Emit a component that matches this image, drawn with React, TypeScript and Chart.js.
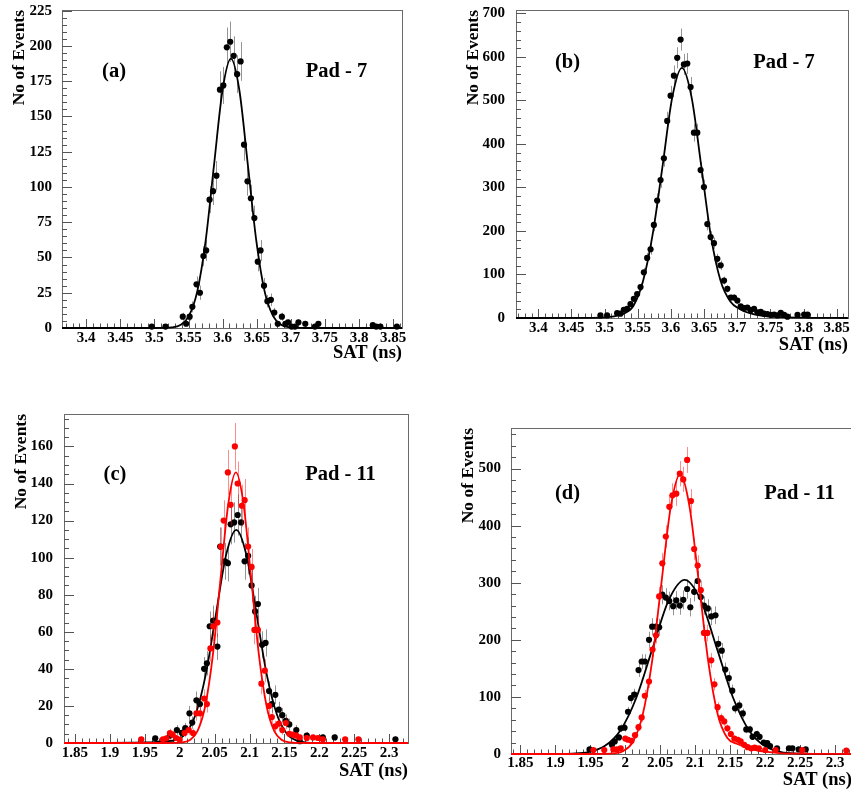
import React, { useEffect, useRef } from "react";
import { Chart, registerables } from "chart.js";

Chart.register(...registerables);

// ---------------- data ----------------
// Panel (a) – Pad 7, measured points
const aX = [3.4961, 3.5162, 3.5415, 3.5465, 3.5516, 3.5556, 3.5617, 3.5667, 3.5718, 3.5758, 3.5808, 3.5859, 3.5909, 3.596, 3.601, 3.6061, 3.6111, 3.6162, 3.6212, 3.6263, 3.6313, 3.6364, 3.6414, 3.6465, 3.6515, 3.6555, 3.6606, 3.6656, 3.6707, 3.6757, 3.6808, 3.6868, 3.6919, 3.6959, 3.701, 3.706, 3.7111, 3.7211, 3.7353, 3.7403, 3.8201, 3.8251, 3.8312, 3.8554];
const aY = [1, 1, 8, 3, 8, 15, 31, 25, 51, 55, 91, 97, 108, 169, 172, 199, 203, 193, 180, 189, 130, 104, 92, 78, 47, 55, 30, 19, 20, 11, 3, 8, 3, 4, 1, 1, 4, 3, 1, 3, 2, 1, 1, 1];
// Panel (a) – fitted curve
const aFitX = [3.3645, 3.5021, 3.5132, 3.5256, 3.5379, 3.5504, 3.5627, 3.5751, 3.5874, 3.5998, 3.6121, 3.6245, 3.6369, 3.6493, 3.6616, 3.674, 3.6863, 3.6987, 3.7111, 3.7232, 3.8629];
const aFitY = [0, 0, 0.06, 0.4, 2.1, 8.4, 25.8, 62, 115.8, 168.6, 191, 168.6, 115.8, 62, 25.8, 8.4, 2.1, 0.4, 0.06, 0, 0];

// Panel (b) – Pad 7
const bX = [3.4937, 3.5038, 3.5189, 3.5239, 3.529, 3.534, 3.539, 3.5441, 3.5491, 3.5542, 3.5592, 3.5642, 3.5693, 3.5743, 3.5793, 3.5844, 3.5894, 3.5944, 3.5995, 3.6045, 3.6095, 3.6146, 3.6196, 3.6247, 3.6297, 3.6347, 3.6398, 3.6448, 3.6498, 3.6549, 3.6599, 3.6649, 3.67, 3.675, 3.6801, 3.6851, 3.6901, 3.6952, 3.7002, 3.7052, 3.7103, 3.7153, 3.7203, 3.7254, 3.7304, 3.7355, 3.7405, 3.7455, 3.7506, 3.7556, 3.7606, 3.7657, 3.7707, 3.7757, 3.7909, 3.8009, 3.806];
const bY = [6, 6, 11, 10, 19, 21, 32, 44, 55, 71, 105, 138, 158, 214, 270, 317, 367, 453, 511, 557, 598, 640, 583, 585, 531, 426, 426, 340, 301, 216, 186, 172, 136, 121, 86, 67, 47, 47, 40, 27, 23, 24, 18, 21, 13, 14, 10, 9, 7, 8, 6, 12, 7, 3, 7, 8, 8];
const bFitX = [3.3664, 3.4746, 3.4998, 3.5144, 3.529, 3.5436, 3.5582, 3.5728, 3.5874, 3.602, 3.6166, 3.6312, 3.6458, 3.6604, 3.675, 3.6896, 3.7042, 3.7188, 3.7334, 3.7667, 3.807, 3.8669];
const bFitY = [0, 0.3, 1.5, 4, 10, 28, 86, 195, 349, 507, 575, 507, 349, 187, 85, 38, 20, 11, 6, 2, 0.5, 0];

// Panel (c) – Pad 11, black and red series
const cBlackX = [1.965, 1.986, 1.996, 2.003, 2.008, 2.014, 2.018, 2.024, 2.029, 2.035, 2.039, 2.043, 2.048, 2.054, 2.058, 2.065, 2.069, 2.073, 2.078, 2.083, 2.088, 2.093, 2.098, 2.103, 2.108, 2.112, 2.118, 2.123, 2.128, 2.132, 2.137, 2.142, 2.147, 2.152, 2.157, 2.167, 2.172, 2.182, 2.205, 2.222, 2.309];
const cBlackY = [2.5, 4, 7, 5.5, 8, 16, 11, 23, 21, 40, 43, 63, 66, 52, 106, 98, 97, 118, 119, 123, 119, 98, 101, 85, 71, 75, 53, 54, 28, 21, 26, 18, 15, 12, 10, 7, 1, 4, 3, 3, 2];
const cRedX = [1.945, 1.976, 1.981, 1.986, 1.99, 1.995, 2.0, 2.007, 2.013, 2.019, 2.024, 2.029, 2.035, 2.039, 2.044, 2.048, 2.054, 2.059, 2.063, 2.069, 2.073, 2.079, 2.083, 2.089, 2.093, 2.098, 2.103, 2.107, 2.112, 2.117, 2.122, 2.128, 2.132, 2.137, 2.142, 2.147, 2.152, 2.157, 2.162, 2.167, 2.172, 2.182, 2.191, 2.198, 2.205, 2.237, 2.256];
const cRedY = [2, 2, 2.5, 5.4, 4.5, 2.7, 1.8, 5.4, 7, 5.4, 16, 16, 24, 21, 51, 63, 65, 106, 120, 146, 128.5, 160, 140, 128, 131, 106, 95, 61, 61, 32, 39, 20, 14, 9, 10.4, 7, 10.8, 5, 4.5, 4, 3, 2.7, 3, 2.7, 2, 2, 2];
const cBlackFitX = [1.8343, 1.95, 1.965, 1.9795, 1.994, 2.0085, 2.023, 2.0375, 2.052, 2.0665, 2.081, 2.0955, 2.11, 2.1245, 2.139, 2.1535, 2.168, 2.1825, 2.197, 2.21, 2.327];
const cBlackFitY = [0, 0.3, 0.5, 1, 1.6, 5, 15.6, 37.3, 69.7, 101.5, 115, 101.5, 69.7, 37.3, 15.6, 5, 1.3, 0.25, 0.03, 0, 0];
const cRedFitX = [1.8343, 1.975, 1.9925, 2.0035, 2.0145, 2.0255, 2.0365, 2.0475, 2.0585, 2.0695, 2.0805, 2.0915, 2.1025, 2.1135, 2.1245, 2.1355, 2.1465, 2.1575, 2.1685, 2.19, 2.327];
const cRedFitY = [0, 0, 0.04, 0.3, 1.6, 6.4, 19.8, 47.4, 88.6, 128.8, 146, 128.8, 88.6, 47.4, 19.8, 6.4, 1.6, 0.3, 0.04, 0, 0];

// Panel (d) – Pad 11, black and red series
const dBlackX = [1.949, 1.981, 1.985, 1.991, 1.9935, 1.999, 2.004, 2.008, 2.013, 2.019, 2.0235, 2.028, 2.034, 2.0385, 2.044, 2.0485, 2.053, 2.058, 2.063, 2.0685, 2.073, 2.078, 2.083, 2.0885, 2.093, 2.0985, 2.1035, 2.108, 2.1125, 2.118, 2.123, 2.129, 2.133, 2.138, 2.143, 2.148, 2.153, 2.157, 2.163, 2.168, 2.173, 2.178, 2.182, 2.188, 2.192, 2.198, 2.203, 2.207, 2.217, 2.234, 2.239, 2.248, 2.258];
const dBlackY = [8, 16, 22, 29, 45, 46, 74, 98, 104, 147, 162, 162, 200, 223, 223, 222, 279, 274, 268, 259, 269, 260, 270, 289, 257, 284, 303, 275, 260, 255, 241, 243, 193, 181, 148, 133, 111, 80, 85, 71, 43, 43, 30, 35, 30, 20, 19, 14, 10, 10, 10, 8, 8];
const dRedX = [1.9545, 1.97, 1.983, 1.988, 1.9935, 2.0, 2.004, 2.009, 2.014, 2.019, 2.0235, 2.028, 2.034, 2.039, 2.044, 2.0485, 2.053, 2.058, 2.063, 2.0675, 2.073, 2.078, 2.083, 2.0885, 2.094, 2.0985, 2.1035, 2.108, 2.1125, 2.1175, 2.123, 2.1275, 2.132, 2.137, 2.1415, 2.146, 2.151, 2.156, 2.161, 2.165, 2.17, 2.175, 2.18, 2.185, 2.191, 2.2, 2.215, 2.253, 2.316];
const dRedY = [7, 7, 8, 8, 10, 27, 25, 23, 33, 47, 64, 102, 127, 183, 208, 276, 334, 381, 433, 453, 456, 491, 481, 515, 443, 359, 330, 287, 212, 212, 164, 122, 82, 63, 57, 45, 35, 27, 25, 22, 16, 12, 10, 11, 10, 7, 7, 7, 6];
const dBlackFitX = [1.8367, 1.88, 1.901, 1.924, 1.947, 1.97, 1.993, 2.016, 2.039, 2.062, 2.085, 2.108, 2.131, 2.154, 2.177, 2.2, 2.223, 2.246, 2.269, 2.3, 2.324];
const dBlackFitY = [0, 0, 0.1, 0.7, 3.4, 13.4, 41.3, 99, 185, 269.2, 305, 269.2, 185, 99, 41.3, 13.4, 3.4, 0.7, 0.1, 0, 0];
const dRedFitX = [1.8367, 1.95, 1.9705, 1.984, 1.9975, 2.011, 2.0245, 2.038, 2.0515, 2.065, 2.0785, 2.092, 2.1055, 2.119, 2.1325, 2.146, 2.1595, 2.173, 2.1865, 2.2, 2.22, 2.25, 2.324];
const dRedFitY = [0, 0, 0.15, 1.1, 5.4, 21.5, 66.3, 159.1, 297.2, 432.4, 490, 432.4, 297.2, 159.1, 68, 28, 18, 12, 7, 4, 1.5, 0.5, 0];

// Tick labels
const xTicksPad7 = [3.4, 3.45, 3.5, 3.55, 3.6, 3.65, 3.7, 3.75, 3.8, 3.85];
const xTicksPad11 = [1.85, 1.9, 1.95, 2, 2.05, 2.1, 2.15, 2.2, 2.25, 2.3];
const yTicksA = [0, 25, 50, 75, 100, 125, 150, 175, 200, 225];
const yTicksB = [0, 100, 200, 300, 400, 500, 600, 700];
const yTicksC = [0, 20, 40, 60, 80, 100, 120, 140, 160];
const yTicksD = [0, 100, 200, 300, 400, 500];

// ---------------- styling / layout ----------------
const FONT = "'Liberation Serif', 'Times New Roman', 'DejaVu Serif', serif";
const BLACK = "#000000";
const RED = "#ff0000";
const BLACK_ERR = "rgba(0,0,0,0.42)";
const RED_ERR = "rgba(255,0,0,0.45)";

type Series = { x: number[]; y: number[]; color: string; err: string };
type Fit = { x: number[]; y: number[]; color: string };
type Panel = {
  key: string;
  left: number; top: number; width: number; height: number;
  area: { left: number; top: number; right: number; bottom: number };
  xMin: number; xMax: number; yMax: number;
  xTicks: number[]; yTicks: number[]; xMinor: number; yMinor: number;
  yTickPad: number; xTickPad: number; xTitlePad: number; yTitlePad: number;
  tag: string; pad: string; tagPos: [number, number]; padPos: [number, number];
  series: Series[]; fits: Fit[];
};

const panels: Panel[] = [
  {
    key: "a", left: 0, top: 0, width: 425, height: 396,
    area: { left: 62, top: 10, right: 402, bottom: 328 },
    xMin: 3.3645, xMax: 3.8629, yMax: 225.5,
    xTicks: xTicksPad7, yTicks: yTicksA, xMinor: 0.01, yMinor: 5,
    yTickPad: 10, xTickPad: 1, xTitlePad: 32, yTitlePad: 9,
    tag: "(a)", pad: "Pad - 7", tagPos: [52, 62], padPos: [274.5, 62],
    series: [{ x: aX, y: aY, color: BLACK, err: BLACK_ERR }],
    fits: [{ x: aFitX, y: aFitY, color: BLACK }],
  },
  {
    key: "b", left: 425, top: 0, width: 426, height: 396,
    area: { left: 516, top: 10, right: 848.3, bottom: 318 },
    xMin: 3.3664, xMax: 3.8669, yMax: 708,
    xTicks: xTicksPad7, yTicks: yTicksB, xMinor: 0.01, yMinor: 20,
    yTickPad: 11, xTickPad: 1.3, xTitlePad: 40, yTitlePad: 37.5,
    tag: "(b)", pad: "Pad - 7", tagPos: [51.5, 53], padPos: [268, 53],
    series: [{ x: bX, y: bY, color: BLACK, err: BLACK_ERR }],
    fits: [{ x: bFitX, y: bFitY, color: BLACK }],
  },
  {
    key: "c", left: 0, top: 396, width: 425, height: 396,
    area: { left: 64, top: 414, right: 408, bottom: 743 },
    xMin: 1.8343, xMax: 2.327, yMax: 177.5,
    xTicks: xTicksPad11, yTicks: yTicksC, xMinor: 0.01, yMinor: 5,
    yTickPad: 11, xTickPad: 1.3, xTitlePad: 9.2, yTitlePad: 11,
    tag: "(c)", pad: "Pad - 11", tagPos: [51, 61], padPos: [276.5, 61],
    series: [
      { x: cBlackX, y: cBlackY, color: BLACK, err: BLACK_ERR },
      { x: cRedX, y: cRedY, color: RED, err: RED_ERR },
    ],
    fits: [
      { x: cBlackFitX, y: cBlackFitY, color: BLACK },
      { x: cRedFitX, y: cRedFitY, color: RED },
    ],
  },
  {
    key: "d", left: 425, top: 396, width: 430, height: 396,
    area: { left: 511, top: 428, right: 852.5, bottom: 754 },
    xMin: 1.8367, xMax: 2.324, yMax: 571,
    xTicks: xTicksPad11, yTicks: yTicksD, xMinor: 0.01, yMinor: 20,
    yTickPad: 10, xTickPad: 0, xTitlePad: 1, yTitlePad: 33,
    tag: "(d)", pad: "Pad - 11", tagPos: [56.5, 66], padPos: [288.5, 66],
    series: [
      { x: dBlackX, y: dBlackY, color: BLACK, err: BLACK_ERR },
      { x: dRedX, y: dRedY, color: RED, err: RED_ERR },
    ],
    fits: [
      { x: dBlackFitX, y: dBlackFitY, color: BLACK },
      { x: dRedFitX, y: dRedFitY, color: RED },
    ],
  },
];

const toPoints = (xs: number[], ys: number[]) => xs.map((x, i) => ({ x, y: ys[i] }));
const fmt = (v: any) => String(Math.round(Number(v) * 1000) / 1000);

// error bars (sqrt N) drawn just before each point dataset
const errorBarPlugin = {
  id: "errorBars",
  beforeDatasetDraw(chart: any, args: any) {
    const ds = chart.data.datasets[args.index];
    if (!ds.errColor) return;
    const { ctx } = chart;
    const xs = chart.scales.x;
    const ys = chart.scales.y;
    ctx.save();
    ctx.strokeStyle = ds.errColor;
    ctx.lineWidth = 1;
    ds.data.forEach((p: any) => {
      const e = Math.sqrt(Math.max(p.y, 0));
      const px = Math.round(xs.getPixelForValue(p.x)) + 0.5;
      ctx.beginPath();
      ctx.moveTo(px, ys.getPixelForValue(Math.max(p.y - e, 0)));
      ctx.lineTo(px, ys.getPixelForValue(p.y + e));
      ctx.stroke();
    });
    ctx.restore();
  },
};

// frame + inward ROOT-style ticks
const framePlugin = {
  id: "rootFrame",
  beforeDatasetsDraw(chart: any, _args: any, opts: any) {
    const { ctx, chartArea: a } = chart;
    const xs = chart.scales.x;
    const ys = chart.scales.y;
    ctx.save();
    ctx.strokeStyle = "#6a6a6a";
    ctx.lineWidth = 1;
    ctx.strokeRect(Math.round(a.left) + 0.5, Math.round(a.top) + 0.5, Math.round(a.right - a.left), Math.round(a.bottom - a.top));
    ctx.strokeStyle = "#555";
    // x ticks
    const xStart = Math.ceil(xs.min / opts.xMinor - 1e-6);
    const xEnd = Math.floor(xs.max / opts.xMinor + 1e-6);
    for (let k = xStart; k <= xEnd; k++) {
      const v = k * opts.xMinor;
      const major = Math.abs(v / 0.05 - Math.round(v / 0.05)) < 1e-6;
      const px = Math.round(xs.getPixelForValue(v)) + 0.5;
      ctx.beginPath();
      ctx.moveTo(px, a.bottom);
      ctx.lineTo(px, a.bottom - (major ? 9 : 4.5));
      ctx.stroke();
    }
    // y ticks
    const majorY = opts.yMajor;
    for (let v = 0; v <= ys.max + 1e-6; v += opts.yMinor) {
      const major = Math.abs(v / majorY - Math.round(v / majorY)) < 1e-6;
      const py = Math.round(ys.getPixelForValue(v)) + 0.5;
      ctx.beginPath();
      ctx.moveTo(a.left, py);
      ctx.lineTo(a.left + (major ? 10 : 5), py);
      ctx.stroke();
    }
    ctx.restore();
  },
};

// "(a)" and "Pad - 7" labels
const labelPlugin = {
  id: "panelLabels",
  afterDraw(chart: any, _args: any, opts: any) {
    const { ctx, chartArea: a } = chart;
    ctx.save();
    ctx.fillStyle = "#000";
    ctx.font = `bold 20.5px ${FONT}`;
    ctx.textAlign = "center";
    ctx.textBaseline = "middle";
    ctx.fillText(opts.tag, a.left + opts.tagPos[0], a.top + opts.tagPos[1]);
    ctx.fillText(opts.pad, a.left + opts.padPos[0], a.top + opts.padPos[1]);
    ctx.restore();
  },
};

function PanelChart({ p }: { p: Panel }) {
  const ref = useRef<HTMLCanvasElement>(null);
  useEffect(() => {
    const canvas = ref.current;
    if (!canvas) return;
    const datasets: any[] = [];
    let order = 100;
    p.series.forEach((s, i) => {
      datasets.push({
        type: "scatter",
        data: toPoints(s.x, s.y),
        showLine: false,
        pointRadius: 3.1,
        pointHoverRadius: 3.1,
        pointBackgroundColor: s.color,
        pointBorderColor: s.color,
        pointBorderWidth: 0,
        borderColor: s.color,
        backgroundColor: s.color,
        errColor: s.err,
        clip: false,
        order: order--,
      });
      const f = p.fits[i];
      datasets.push({
        type: "line",
        data: toPoints(f.x, f.y),
        borderColor: f.color,
        borderWidth: 1.8,
        pointRadius: 0,
        pointHoverRadius: 0,
        fill: false,
        cubicInterpolationMode: "monotone",
        clip: false,
        order: order--,
      });
    });
    const yMajor = p.yTicks[1] - p.yTicks[0];
    const chart = new Chart(canvas, {
      type: "scatter",
      data: { datasets },
      options: {
        animation: false,
        responsive: false,
        devicePixelRatio: 1,
        events: [],
        layout: {
          padding: {
            left: 0,
            top: p.area.top - p.top,
            right: p.left + p.width - p.area.right,
            bottom: 0,
          },
        },
        plugins: {
          legend: { display: false },
          tooltip: { enabled: false },
          rootFrame: { xMinor: p.xMinor, yMinor: p.yMinor, yMajor },
          panelLabels: { tag: p.tag, pad: p.pad, tagPos: p.tagPos, padPos: p.padPos },
        } as any,
        scales: {
          x: {
            type: "linear",
            min: p.xMin,
            max: p.xMax,
            afterBuildTicks: (s: any) => {
              s.ticks = p.xTicks.map((v) => ({ value: v }));
            },
            afterFit: (s: any) => {
              s.height = p.top + p.height - p.area.bottom;
              s.paddingLeft = 0;
              s.paddingRight = 0;
              s.paddingTop = 0;
              s.paddingBottom = 0;
            },
            grid: { display: false, drawTicks: false },
            border: { display: false },
            ticks: {
              color: "#000",
              font: { family: FONT, size: 15, weight: "bold" },
              padding: p.xTickPad,
              maxRotation: 0,
              minRotation: 0,
              autoSkip: false,
              callback: (v: any) => fmt(v),
            },
            title: {
              display: true,
              text: "SAT (ns)",
              align: "end",
              color: "#000",
              font: { family: FONT, size: 18.5, weight: "bold" },
              padding: { top: 0, bottom: p.xTitlePad },
            },
          },
          y: {
            type: "linear",
            min: 0,
            max: p.yMax,
            afterBuildTicks: (s: any) => {
              s.ticks = p.yTicks.map((v) => ({ value: v }));
            },
            afterFit: (s: any) => {
              s.width = p.area.left - p.left;
              s.paddingLeft = 0;
              s.paddingRight = 0;
              s.paddingTop = 0;
              s.paddingBottom = 0;
            },
            grid: { display: false, drawTicks: false },
            border: { display: false },
            ticks: {
              color: "#000",
              font: { family: FONT, size: 15, weight: "bold" },
              padding: p.yTickPad,
              autoSkip: false,
              callback: (v: any) => fmt(v),
            },
            title: {
              display: true,
              text: "No of Events",
              align: "end",
              color: "#000",
              font: { family: FONT, size: 17.5, weight: "bold" },
              padding: { top: p.yTitlePad, bottom: 0 },
            },
          },
        },
      } as any,
      plugins: [errorBarPlugin, framePlugin, labelPlugin] as any,
    });
    return () => chart.destroy();
  }, [p]);
  return (
    <canvas
      ref={ref}
      width={p.width}
      height={p.height}
      style={{ position: "absolute", left: p.left, top: p.top, width: p.width, height: p.height }}
    />
  );
}

export default function App() {
  return (
    <div
      style={{
        position: "absolute",
        left: 0,
        top: 0,
        width: 851,
        height: 792,
        overflow: "hidden",
        background: "#fff",
      }}
    >
      {panels.map((p) => (
        <PanelChart key={p.key} p={p} />
      ))}
    </div>
  );
}
